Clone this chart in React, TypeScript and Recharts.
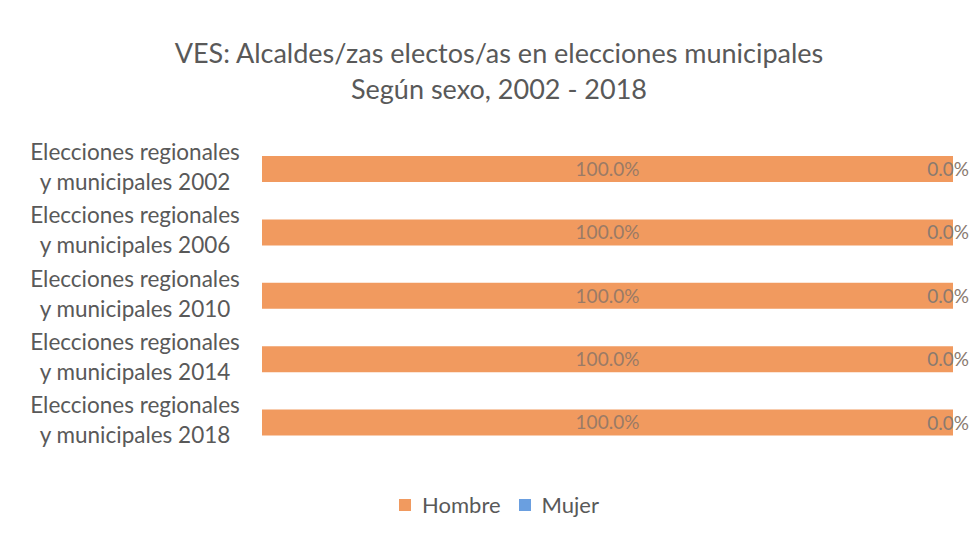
import React from 'react';
import { BarChart, Bar, XAxis, YAxis, LabelList } from 'recharts';

const categories = [
  'Elecciones regionales y municipales 2002',
  'Elecciones regionales y municipales 2006',
  'Elecciones regionales y municipales 2010',
  'Elecciones regionales y municipales 2014',
  'Elecciones regionales y municipales 2018',
];
const hombre = [1, 1, 1, 1, 1];
const mujer = [0, 0, 0, 0, 0];
const seriesNames = ['Hombre', 'Mujer'];
const seriesColors = ['#F19A5F', '#6A9FE0'];

const data = categories.map((c, i) => ({ name: c, Hombre: hombre[i], Mujer: mujer[i] }));

const FONT = 'Lato, "Open Sans", sans-serif';
const fmt = (v: any) => (Number(v) * 100).toFixed(1) + '%';

const CatTick = (props: any) => {
  const { y, payload } = props;
  const s = String(payload.value);
  const idx = s.indexOf(' y ');
  const l1 = s.slice(0, idx);
  const l2 = s.slice(idx + 1);
  return (
    <text x={135} y={y} textAnchor="middle" fill="#595959" fontSize={22.5} fontFamily={FONT}>
      <tspan x={135} dy={-9}>{l1}</tspan>
      <tspan x={135} dy={30}>{l2}</tspan>
    </text>
  );
};

// Mujer labels: drawn at the end of the Hombre segment (where the zero-width Mujer segment sits)
const MujerLabel = (props: any) => {
  const { x, y, width, height, value } = props;
  return (
    <text x={Number(x) + Number(width) + 16} y={Number(y) + Number(height) / 2} dy={7} textAnchor="end" fill="#8a7a70" fontSize={19} fontFamily={FONT}>
      {fmt(value)}
    </text>
  );
};

export default function App() {
  return (
    <div style={{ position: 'absolute', left: 0, top: 0, width: 970, height: 539, background: '#fff', fontFamily: FONT }}>
      <div style={{ position: 'absolute', top: 35, left: 28, width: 942, textAlign: 'center', color: '#595959', fontSize: 27, lineHeight: '36px' }}>
        <div>VES: Alcaldes/zas electos/as en elecciones municipales</div>
        <div>Según sexo, 2002 - 2018</div>
      </div>
      <BarChart
        width={970}
        height={539}
        data={data}
        layout="vertical"
        margin={{ top: 137, right: 17, bottom: 85, left: 0 }}
        barSize={26}
        style={{ position: 'absolute', left: 0, top: 0 }}
      >
        <XAxis type="number" domain={[0, 1]} hide />
        <YAxis type="category" dataKey="name" width={262} axisLine={false} tickLine={false} tick={<CatTick />} interval={0} />
        <Bar dataKey="Hombre" stackId="a" fill={seriesColors[0]} isAnimationActive={false}>
          <LabelList dataKey="Hombre" position="center" formatter={fmt} fill="#9a7a66" fontSize={19} fontFamily={FONT} />
          <LabelList dataKey="Mujer" content={<MujerLabel />} />
        </Bar>
        <Bar dataKey="Mujer" stackId="a" fill={seriesColors[1]} isAnimationActive={false} />
      </BarChart>
      <div style={{ position: 'absolute', top: 490, left: 28, width: 942, display: 'flex', justifyContent: 'center', alignItems: 'center', fontSize: 22, color: '#595959', lineHeight: '30px' }}>
        {seriesNames.map((n, i) => (
          <div key={n} style={{ display: 'flex', alignItems: 'center', marginLeft: i ? 18 : 0 }}>
            <span style={{ display: 'inline-block', width: 12, height: 12, background: seriesColors[i], marginRight: 11 }} />
            <span>{n}</span>
          </div>
        ))}
      </div>
    </div>
  );
}
